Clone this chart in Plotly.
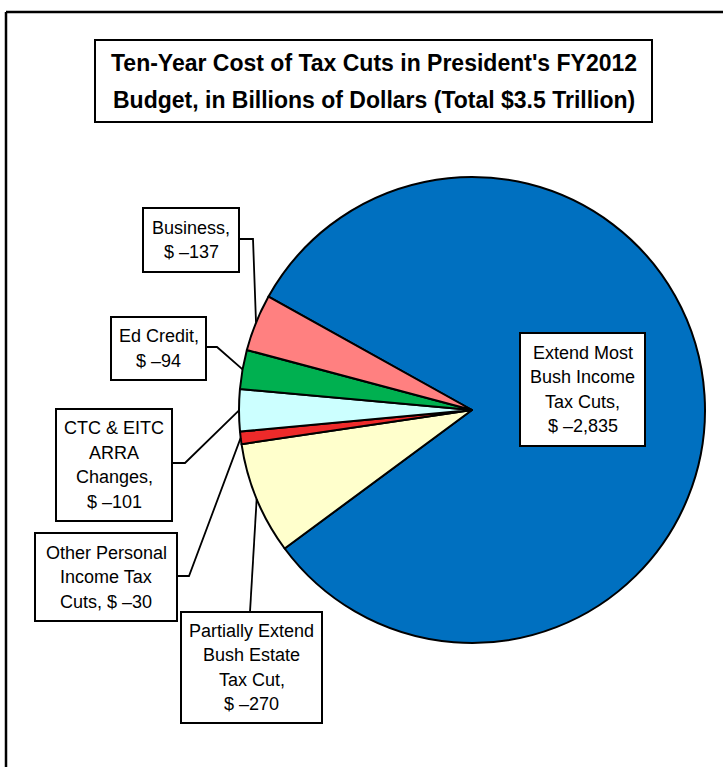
import plotly.graph_objects as go
import math

# ---------------- data ----------------
categories = [
    "Extend Most Bush Income Tax Cuts",
    "Partially Extend Bush Estate Tax Cut",
    "Other Personal Income Tax Cuts",
    "CTC & EITC ARRA Changes",
    "Ed Credit",
    "Business",
]
costs = [-2835, -270, -30, -101, -94, -137]   # billions of dollars
label_lines = [
    ["Extend Most", "Bush Income", "Tax Cuts,"],
    ["Partially Extend", "Bush Estate", "Tax Cut,"],
    ["Other Personal", "Income Tax", "Cuts, {v}"],
    ["CTC & EITC", "ARRA", "Changes,"],
    ["Ed Credit,"],
    ["Business,"],
]
colors = ["#0070C0", "#FFFFCC", "#EE2A2A", "#CCFFFF", "#00B050", "#FF8080"]
title_lines = ["Ten-Year Cost of Tax Cuts in President's FY2012",
               "Budget, in Billions of Dollars (Total $3.5 Trillion)"]

# ---------------- layout helpers (pixels -> paper) ----------------
W, H = 723, 767
def px(x): return x / W
def py(y): return 1 - y / H

CX, CY, R = 472, 410, 233
ROT = -60.85

sizes = [abs(v) for v in costs]
total = sum(sizes)

def fmt(v):
    return "$ \u2013{:,}".format(abs(v))

fig = go.Figure(go.Pie(
    labels=categories, values=sizes, sort=False, direction="clockwise",
    rotation=ROT, textinfo="none", hoverinfo="label+value",
    marker=dict(colors=colors, line=dict(color="black", width=2)),
    domain=dict(x=[px(CX - R), px(CX + R)], y=[py(CY + R), py(CY - R)]),
    showlegend=False,
))

shapes = []
annotations = []

# outer frame (only top & left visible)
shapes.append(dict(type="line", xref="paper", yref="paper",
                   x0=px(6), y0=py(12), x1=px(730), y1=py(12),
                   line=dict(color="black", width=2.5)))
shapes.append(dict(type="line", xref="paper", yref="paper",
                   x0=px(6), y0=py(12), x1=px(6), y1=py(780),
                   line=dict(color="black", width=2.5)))

# title box
shapes.append(dict(type="rect", xref="paper", yref="paper",
                   x0=px(95), y0=py(40), x1=px(652), y1=py(122),
                   line=dict(color="black", width=2), fillcolor="white"))
for i, t in enumerate(title_lines):
    annotations.append(dict(xref="paper", yref="paper", x=px(373.5), y=py(63 + i * 37),
                            text="<b>" + t + "</b>", showarrow=False,
                            xanchor="center", yanchor="middle",
                            font=dict(family="Liberation Sans Narrow, Arial Narrow, Liberation Sans, Arial",
                                      size=23, color="black")))

# label boxes (pixel rects) and leader-line elbows
boxes = [
    (520, 333, 645, 446),
    (181, 612, 322, 723),
    (35, 533, 177, 621),
    (56, 409, 172, 521),
    (111, 317, 206, 380),
    (143, 208, 239, 272),
]
elbows = [
    None,
    [(250, 612)],
    [(177, 576), (189, 576)],
    [(172, 463), (185, 463)],
    [(206, 347), (217, 347)],
    [(239, 239), (253, 239)],
]

cum = 0
for i, v in enumerate(sizes):
    mid = ROT + (cum + v / 2) / total * 360
    cum += v
    a = math.radians(mid)
    ex, ey = CX + R * math.sin(a), CY - R * math.cos(a)
    if elbows[i]:
        pts = elbows[i] + [(ex, ey)]
        path = "M " + " L ".join(f"{px(x):.5f},{py(y):.5f}" for x, y in pts)
        shapes.append(dict(type="path", xref="paper", yref="paper", path=path,
                           line=dict(color="black", width=1.8)))
    x0, y0, x1, y1 = boxes[i]
    shapes.append(dict(type="rect", xref="paper", yref="paper",
                       x0=px(x0), y0=py(y0), x1=px(x1), y1=py(y1),
                       line=dict(color="black", width=2), fillcolor="white"))
    lines = [l.replace("{v}", fmt(costs[i])) for l in label_lines[i]]
    if "{v}" not in "".join(label_lines[i]):
        lines.append(fmt(costs[i]))
    n = len(lines)
    cy = (y0 + y1) / 2
    for j, l in enumerate(lines):
        annotations.append(dict(xref="paper", yref="paper",
                                x=px((x0 + x1) / 2), y=py(cy + (j - (n - 1) / 2) * 24.5),
                                text=l, showarrow=False, xanchor="center", yanchor="middle",
                                font=dict(family="Liberation Sans, Arial, sans-serif",
                                          size=18, color="black")))

fig.update_layout(
    width=W, height=H, margin=dict(l=0, r=0, t=0, b=0),
    paper_bgcolor="white", plot_bgcolor="white",
    shapes=shapes, annotations=annotations,
)

fig.write_html("out.html")
